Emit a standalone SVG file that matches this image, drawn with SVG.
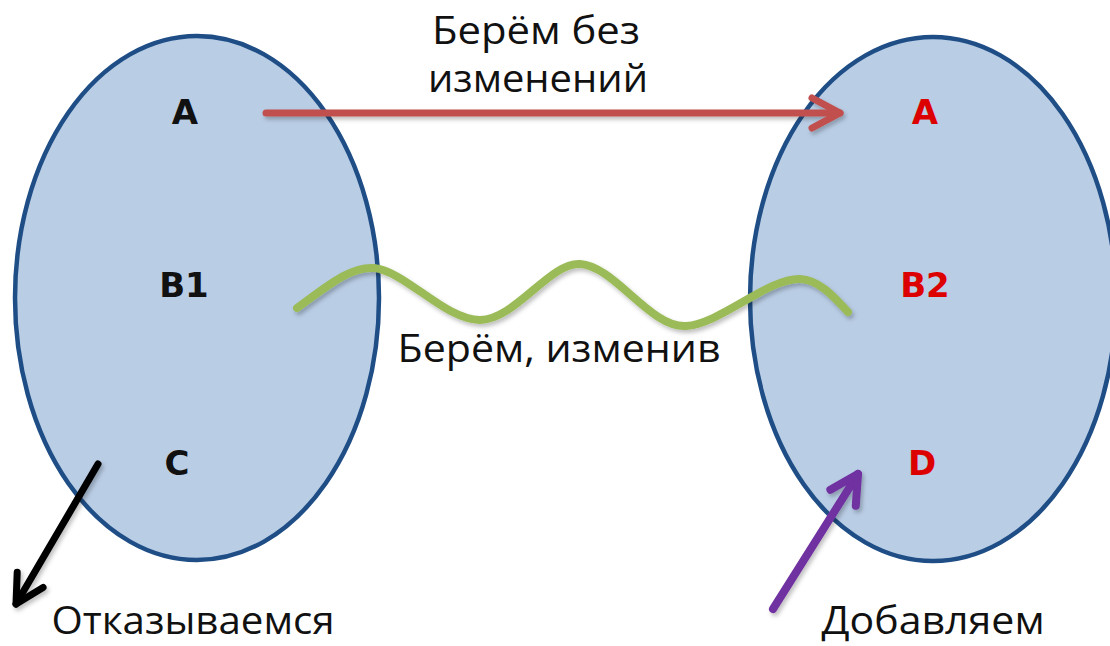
<svg xmlns="http://www.w3.org/2000/svg" width="1110" height="646" viewBox="0 0 1110 646">
<style>
.set{fill:#B9CDE5;stroke:#1F4E86;stroke-width:4.5}
.el{font-family:"DejaVu Sans",Verdana,sans-serif;font-weight:bold;font-size:34px;text-anchor:middle}
.blk{fill:#111}
.red{fill:#DD0000}
.lbl{font-family:"Open Sans","Noto Sans",sans-serif;font-size:38px;fill:#111}
.con{fill:none;stroke-linecap:round;stroke-linejoin:round;filter:url(#sh)}
</style>
<defs>
<filter id="sh" filterUnits="userSpaceOnUse" x="0" y="0" width="1110" height="646">
<feDropShadow dx="2" dy="3" stdDeviation="2" flood-color="#000" flood-opacity="0.25"/>
</filter>
<marker id="hRed" markerUnits="userSpaceOnUse" viewBox="0 0 34 36" refX="31" refY="18" markerWidth="34" markerHeight="36" orient="auto" overflow="visible">
<path d="M3,3 L31,18 L3,33" fill="none" stroke="#C0504D" stroke-width="7" stroke-linecap="round" stroke-linejoin="round"/>
</marker>
<marker id="hBlk" markerUnits="userSpaceOnUse" viewBox="0 0 34 36" refX="31" refY="18" markerWidth="34" markerHeight="36" orient="auto" overflow="visible">
<path d="M3,3 L31,18 L3,33" fill="none" stroke="#000" stroke-width="7" stroke-linecap="round" stroke-linejoin="round"/>
</marker>
<marker id="hPur" markerUnits="userSpaceOnUse" viewBox="0 0 34 36" refX="31" refY="18" markerWidth="34" markerHeight="36" orient="auto" overflow="visible">
<path d="M3,3 L31,18 L3,33" fill="none" stroke="#7030A0" stroke-width="8" stroke-linecap="round" stroke-linejoin="round"/>
</marker>
</defs>
<rect width="1110" height="646" fill="#fff"/>
<g id="set-old">
<ellipse class="set" cx="197" cy="298" rx="182" ry="262"/>
<text class="el blk" x="185" y="124">A</text>
<text class="el blk" x="184" y="297">B1</text>
<text class="el blk" x="177" y="475">C</text>
</g>
<g id="set-new">
<ellipse class="set" cx="933" cy="299" rx="183" ry="262"/>
<text class="el red" x="925" y="124">A</text>
<text class="el red" x="925" y="297">B2</text>
<text class="el red" x="922" y="475">D</text>
</g>
<g id="connectors">
<line class="con" x1="266" y1="113" x2="840" y2="113" stroke="#C0504D" stroke-width="7" marker-end="url(#hRed)"/>
<path class="con" d="M297,308 C325,288 350,266 374,268 C405,271 445,320 480,320 C515,320 550,262 580,264 C615,266 650,328 686,326 C720,324 768,278 800,279 C820,280 835,298 848,312" stroke="#9BBB59" stroke-width="8"/>
<line class="con" x1="98" y1="464" x2="16" y2="604" stroke="#000" stroke-width="7" marker-end="url(#hBlk)"/>
<line class="con" x1="773" y1="609" x2="858" y2="474" stroke="#7030A0" stroke-width="8" marker-end="url(#hPur)"/>
</g>
<g id="labels">
<text class="lbl" x="536" y="44" text-anchor="middle" textLength="208" lengthAdjust="spacingAndGlyphs">Берём без</text>
<text class="lbl" x="538" y="92" text-anchor="middle" textLength="220" lengthAdjust="spacingAndGlyphs">изменений</text>
<text class="lbl" x="559" y="362" text-anchor="middle" textLength="323" lengthAdjust="spacingAndGlyphs">Берём, изменив</text>
<text class="lbl" x="193" y="634" text-anchor="middle" textLength="283" lengthAdjust="spacingAndGlyphs">Отказываемся</text>
<text class="lbl" x="933" y="634" text-anchor="middle" textLength="223" lengthAdjust="spacingAndGlyphs">Добавляем</text>
</g>
</svg>
